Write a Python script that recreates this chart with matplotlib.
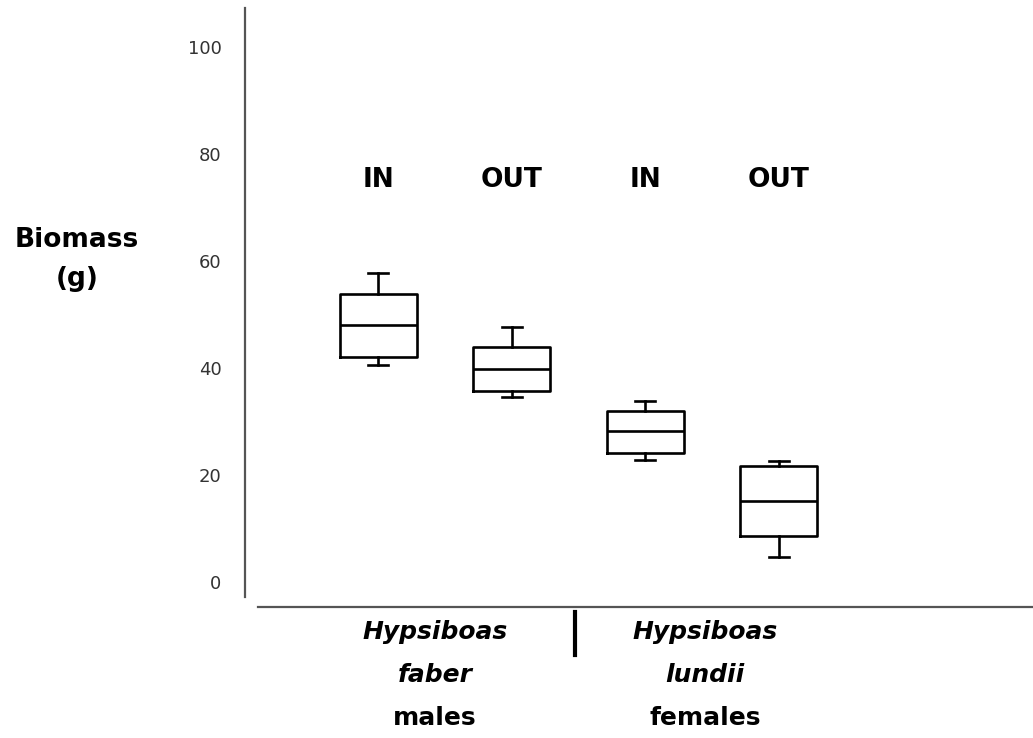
import matplotlib.pyplot as plt
from matplotlib.lines import Line2D

# box statistics (g)
groups = ["IN", "OUT", "IN", "OUT"]
whislo = [40.6, 34.6, 22.8, 4.7]
q1 = [42.1, 35.8, 24.2, 8.6]
med = [48.0, 39.9, 28.3, 15.2]
q3 = [53.8, 43.9, 32.0, 21.6]
whishi = [57.7, 47.7, 33.9, 22.7]
yticks = [0, 20, 40, 60, 80, 100]
species = [("Hypsiboas", "faber", "males"), ("Hypsiboas", "lundii", "females")]

stats = []
for i in range(4):
    stats.append(dict(whislo=whislo[i], q1=q1[i], med=med[i], q3=q3[i],
                      whishi=whishi[i], fliers=[]))

fig = plt.figure(figsize=(10.33, 7.38), dpi=100)
W, H = 1033, 738
ax = fig.add_axes([245 / W, 1 - 597 / H, (1033 - 245) / W, (597 - 8) / H])

pos = [1, 2, 3, 4]
lw = 1.9
ax.bxp(stats, positions=pos, widths=0.577, showfliers=False, capwidths=0.15,
       boxprops=dict(color="black", linewidth=lw),
       medianprops=dict(color="black", linewidth=lw),
       whiskerprops=dict(color="black", linewidth=lw),
       capprops=dict(color="black", linewidth=lw))

ax.set_xlim(0, 5.904)
ax.set_ylim(-2.8, 107.3)
ax.set_yticks(yticks)
ax.set_xticks([])
ax.tick_params(axis="y", length=0, pad=17, labelsize=13, labelcolor="#333333")
for s in ["top", "right", "bottom"]:
    ax.spines[s].set_visible(False)
ax.spines["left"].set_color("#555555")
ax.spines["left"].set_linewidth(1.6)

# group labels above boxes
for p, g in zip(pos, groups):
    ax.text(p, 75.1, g, ha="center", va="center", fontsize=19, fontweight="bold")

# y label
fig.text(77 / W, 1 - 240 / H, "Biomass", ha="center", va="center",
         fontsize=19, fontweight="bold")
fig.text(77 / W, 1 - 279 / H, "(g)", ha="center", va="center",
         fontsize=19, fontweight="bold")

# baseline and separator
fig.add_artist(Line2D([258 / W, 1.0], [1 - 607 / H] * 2, color="#555555", lw=1.6))
fig.add_artist(Line2D([575 / W] * 2, [1 - 612 / H, 1 - 655 / H], color="black", lw=3))

# species labels
for cx, (genus, sp, sex) in zip([435, 705], species):
    fig.text(cx / W, 1 - 632 / H, genus, ha="center", va="center",
             fontsize=18, fontweight="bold", style="italic")
    fig.text(cx / W, 1 - 675 / H, sp, ha="center", va="center",
             fontsize=18, fontweight="bold", style="italic")
    fig.text(cx / W, 1 - 718 / H, sex, ha="center", va="center",
             fontsize=18, fontweight="bold")

fig.savefig("out.png", dpi=100)
